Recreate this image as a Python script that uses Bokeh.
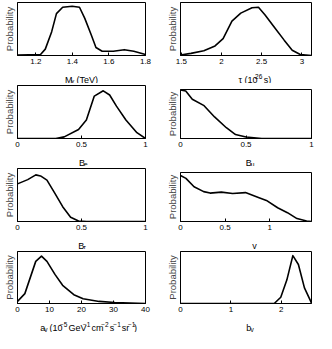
from bokeh.plotting import figure
from bokeh.models import Range1d, FixedTicker
from bokeh.layouts import column, row
from bokeh.core.properties import value
from bokeh.embed import file_html
from bokeh.resources import INLINE

# ---------------- data ----------------
mchi_x = [1.10, 1.226, 1.252, 1.287, 1.313, 1.347, 1.399, 1.439, 1.468, 1.503, 1.529, 1.563, 1.624, 1.684, 1.736, 1.80]
mchi_y = [0.01, 0.02, 0.12, 0.45, 0.79, 0.91, 0.93, 0.91, 0.70, 0.39, 0.15, 0.08, 0.08, 0.11, 0.08, 0.02]
mchi_ticks = [1.2, 1.4, 1.6, 1.8]
mchi_labels = ["1.2", "1.4", "1.6", "1.8"]

tau_x = [1.49, 1.62, 1.78, 1.92, 2.02, 2.13, 2.24, 2.38, 2.46, 2.54, 2.66, 2.78, 2.88, 2.98, 3.12]
tau_y = [0.01, 0.04, 0.09, 0.18, 0.32, 0.65, 0.80, 0.90, 0.91, 0.77, 0.53, 0.29, 0.10, 0.02, 0.0]
tau_ticks = [1.5, 2, 2.5, 3]
tau_labels = ["1.5", "2", "2.5", "3"]

be_x = [0, 0.30, 0.365, 0.477, 0.538, 0.60, 0.67, 0.72, 0.773, 0.847, 0.933, 1.0]
be_y = [0, 0, 0.03, 0.17, 0.35, 0.80, 0.90, 0.82, 0.61, 0.35, 0.11, 0.0]

bmu_x = [0, 0.04, 0.09, 0.18, 0.26, 0.35, 0.42, 0.50, 0.62, 1.0]
bmu_y = [0.99, 0.97, 0.80, 0.67, 0.44, 0.22, 0.08, 0.03, 0.0, 0.0]

btau_x = [0, 0.08, 0.143, 0.18, 0.23, 0.29, 0.353, 0.415, 0.477, 0.54, 1.0]
btau_y = [0.71, 0.79, 0.88, 0.86, 0.78, 0.54, 0.28, 0.08, 0.01, 0.0, 0.0]

b_ticks = [0, 0.5, 1]
b_labels = ["0", "0.5", "1"]

gam_x = [0, 0.061, 0.152, 0.26, 0.332, 0.458, 0.585, 0.729, 0.874, 0.964, 1.09, 1.20, 1.307, 1.415, 1.47]
gam_y = [0.94, 0.88, 0.71, 0.61, 0.58, 0.60, 0.57, 0.59, 0.49, 0.43, 0.28, 0.18, 0.06, 0.01, 0.0]

ag_x = [0, 2.3, 5.7, 7.5, 9.2, 11.7, 14.1, 17.6, 20.5, 25.5, 30.4, 40]
ag_y = [0.04, 0.19, 0.81, 0.91, 0.81, 0.56, 0.35, 0.17, 0.09, 0.04, 0.02, 0.0]
ag_ticks = [0, 10, 20, 30, 40]
ag_labels = ["0", "10", "20", "30", "40"]

bg_x = [0, 1.86, 1.99, 2.11, 2.23, 2.34, 2.46, 2.59, 2.6]
bg_y = [0, 0, 0.12, 0.45, 0.92, 0.75, 0.30, 0.03, 0.0]
bg_ticks = [0, 1, 2]
bg_labels = ["0", "1", "2"]

FONT = "Liberation Sans"
FRAME_W = 131
# approximate Arial advance widths (em) for centring multi-part axis titles
CW = {' ': 0.34, '(': 0.333, ')': 0.333, '.': 0.278, '-': 0.333, '\u2212': 0.584,
      'M': 0.833, 'T': 0.611, 'e': 0.556, 'V': 0.667, 'G': 0.778, 'c': 0.5, 'm': 0.833,
      's': 0.5, 'r': 0.333, 'a': 0.556, 'b': 0.556, 'B': 0.667,
      '\u03c4': 0.45, '\u03b3': 0.5, '\u03c7': 0.55, '\u03bc': 0.58}


def tw(s, size):
    return sum(CW.get(c, 0.556) for c in s) * size


def label_strip(pieces, cfrac, col, h, base):
    """A frameless strip under a panel that carries its x-axis title (with sub/superscripts)."""
    left, right = (14, 13) if col == 0 else (22, 5)
    w = left + FRAME_W + right
    s = figure(width=w, height=h, x_range=Range1d(0, w), y_range=Range1d(h, 0),
               output_backend="svg", toolbar_location=None, title_location=None,
               x_axis_location=None, y_axis_location=None,
               min_border_left=0, min_border_right=0, min_border_top=0, min_border_bottom=0)
    s.outline_line_color = None
    s.xgrid.visible = False
    s.ygrid.visible = False
    sizes = {'n': 9, 'sub': 6.5, 'sup': 6.5}
    dy = {'n': base, 'sub': base + 2, 'sup': base - 3.5}
    total = sum(tw(t, sizes[k]) for t, k in pieces)
    x = left + cfrac * FRAME_W - total / 2
    for t, k in pieces:
        st = t.lstrip(' ')
        x += (len(t) - len(st)) * CW[' '] * sizes[k]
        s.text(x=[x], y=[dy[k]], text=[st], text_font=value(FONT),
               text_font_size=value(f"{sizes[k]}px"), text_color="black",
               text_baseline=value("alphabetic"), text_align=value("left"))
        x += tw(st, sizes[k])
    return s


def panel(xs, ys, xr, ticks, labels, col, top, frame_h, bottom):
    left, right = (14, 13) if col == 0 else (22, 5)
    p = figure(width=left + FRAME_W + right, height=top + frame_h + bottom,
               x_range=Range1d(*xr), y_range=Range1d(0, 1),
               output_backend="svg", toolbar_location=None, title_location=None,
               min_border_left=left, min_border_right=right,
               min_border_top=top, min_border_bottom=bottom)
    p.line(xs, ys, line_color="black", line_width=1.6, line_join="round")
    p.xgrid.visible = False
    p.ygrid.visible = False
    p.outline_line_color = "black"
    p.outline_line_width = 1
    p.outline_line_alpha = 1

    xa = p.xaxis[0]
    xa.ticker = FixedTicker(ticks=ticks)
    xa.major_label_overrides = {float(t): l for t, l in zip(ticks, labels)}
    xa.major_tick_in = 3
    xa.major_tick_out = 0
    xa.minor_tick_line_color = None
    xa.major_label_standoff = 3
    xa.major_label_text_font = FONT
    xa.major_label_text_font_size = "8px"
    xa.major_label_text_color = "black"
    xa.axis_line_color = "black"

    ya = p.yaxis[0]
    ya.ticker = FixedTicker(ticks=[])
    ya.major_tick_out = 0
    ya.major_tick_in = 0
    ya.minor_tick_line_color = None
    ya.major_label_standoff = 0
    ya.axis_label = "Probability"
    ya.axis_label_text_font = FONT
    ya.axis_label_text_font_size = "9.5px"
    ya.axis_label_text_font_style = "normal"
    ya.axis_label_standoff = 3
    ya.axis_line_color = "black"
    return p


def cell(xs, ys, xr, ticks, labels, pieces, cfrac, col, top, frame_h, strip_h=15, base=11):
    return column(panel(xs, ys, xr, ticks, labels, col, top, frame_h, 13),
                  label_strip(pieces, cfrac, col, strip_h, base))


c1 = cell(mchi_x, mchi_y, (1.1, 1.8), mchi_ticks, mchi_labels,
          [("M", 'n'), ("\u03c7", 'sub'), (" (TeV)", 'n')], 0.48, 0, 2, 53)
c2 = cell(tau_x, tau_y, (1.49, 3.12), tau_ticks, tau_labels,
          [("\u03c4 (10", 'n'), ("26", 'sup'), (" s)", 'n')], 0.51, 1, 2, 53)
c3 = cell(be_x, be_y, (0, 1), b_ticks, b_labels,
          [("B", 'n'), ("e", 'sub')], 0.51, 0, 2, 53)
c4 = cell(bmu_x, bmu_y, (0, 1), b_ticks, b_labels,
          [("B", 'n'), ("\u03bc", 'sub')], 0.47, 1, 6, 49)
c5 = cell(btau_x, btau_y, (0, 1), b_ticks, b_labels,
          [("B", 'n'), ("\u03c4", 'sub')], 0.5, 0, 2, 53)
c6 = cell(gam_x, gam_y, (0, 1.47), b_ticks, b_labels,
          [("\u03b3", 'n')], 0.51, 1, 6, 49)
c7 = cell(ag_x, ag_y, (0, 40), ag_ticks, ag_labels,
          [("a", 'n'), ("\u03b3", 'sub'), (" (10", 'n'), ("\u22125", 'sup'), (" GeV", 'n'),
           ("\u22121", 'sup'), (" cm", 'n'), ("\u22122", 'sup'), (" s", 'n'), ("\u22121", 'sup'),
           (" sr", 'n'), ("\u22121", 'sup'), (")", 'n')], 0.56, 0, 2, 52, 16, 11)
c8 = cell(bg_x, bg_y, (0, 2.6), bg_ticks, bg_labels,
          [("b", 'n'), ("\u03b3", 'sub')], 0.47, 1, 2, 52, 16, 11)

layout = column(row(c1, c2), row(c3, c4), row(c5, c6), row(c7, c8))

open("out.html", "w").write(file_html(layout, INLINE))
